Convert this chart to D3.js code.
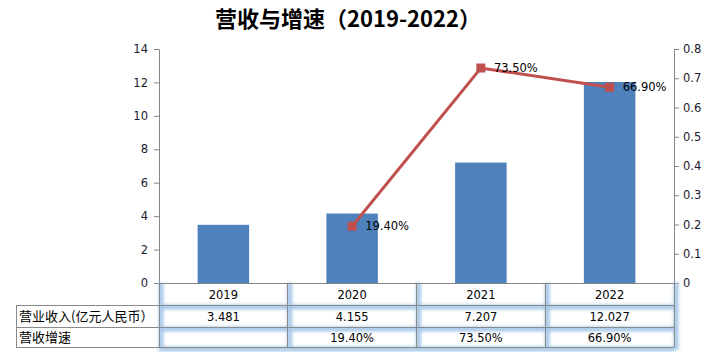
<!DOCTYPE html>
<html>
<head>
<meta charset="utf-8">
<script src="https://cdn.jsdelivr.net/npm/d3@7"></script>
<style>
  body { margin: 0; background: #fff; }
  svg { display: block; }
  text { font-family: "DejaVu Sans", sans-serif; }
</style>
</head>
<body>
<svg id="chart" width="706" height="352"></svg>
<script>
// Données
const annees = ["2019", "2020", "2021", "2022"];
const revenus = [3.481, 4.155, 7.207, 12.027];
const croissance = [null, 0.194, 0.735, 0.669];
const revenusTexte = ["3.481", "4.155", "7.207", "12.027"];
const croissanceTexte = ["", "19.40%", "73.50%", "66.90%"];
const ticksGauche = [0, 2, 4, 6, 8, 10, 12, 14];
const ticksDroite = [0, 0.1, 0.2, 0.3, 0.4, 0.5, 0.6, 0.7, 0.8];
const lignesTable = ["营业收入(亿元人民币）", "营收增速"];

const svg = d3.select("#chart");
const width = 706, height = 352;

const margin = { top: 49, left: 159, right: 674, bottom: 283 };

// Échelles
const x = d3.scaleBand().domain(annees).range([margin.left, margin.right]).padding(0);
const y = d3.scaleLinear().domain([0, 14]).range([margin.bottom, margin.top]);
const y2 = d3.scaleLinear().domain([0, 0.8]).range([margin.bottom, margin.top]);

// Titre
svg.append("text")
  .attr("x", 348).attr("y", 27)
  .attr("text-anchor", "middle")
  .style("font-family", "'Noto Sans CJK SC', sans-serif")
  .style("font-weight", "bold")
  .style("font-size", "22px")
  .attr("fill", "#000")
  .text("营收与增速（2019-2022）");

// Barres
const barW = x.bandwidth() * 0.4;
svg.selectAll("rect.bar")
  .data(annees)
  .enter()
  .append("rect")
  .attr("class", "bar")
  .attr("x", (d) => x(d) + (x.bandwidth() - barW) / 2)
  .attr("y", (d, i) => y(revenus[i]))
  .attr("width", barW)
  .attr("height", (d, i) => y(0) - y(revenus[i]))
  .attr("fill", "#4F81BD");

// Axe gauche
const axeG = svg.append("g")
  .attr("transform", `translate(${margin.left},0)`)
  .call(d3.axisLeft(y).tickValues(ticksGauche).tickSize(5).tickPadding(6));
axeG.selectAll("path, line").attr("stroke", "#868686");
axeG.selectAll("text").attr("fill", "#1a1a2e").style("font-size", "11.5px").style("font-family", "'DejaVu Sans', sans-serif");

// Axe droit
const axeD = svg.append("g")
  .attr("transform", `translate(${margin.right},0)`)
  .call(d3.axisRight(y2).tickValues(ticksDroite).tickFormat((d) => d === 0 ? "0" : d3.format(".1f")(d)).tickSize(5).tickPadding(4));
axeD.selectAll("path, line").attr("stroke", "#868686");
axeD.selectAll("text").attr("fill", "#1a1a2e").style("font-size", "11.5px").style("font-family", "'DejaVu Sans', sans-serif");

// Table de données
const defs = svg.append("defs");
defs.append("filter").attr("id", "flou")
  .attr("x", "-10%").attr("y", "-10%").attr("width", "120%").attr("height", "120%")
  .append("feGaussianBlur").attr("stdDeviation", 1.6);

const rowY = [283, 305, 327, 347];
const colX = [margin.left].concat(annees.map((d) => x(d) + x.bandwidth()));

const table = svg.append("g");
const glow = table.append("g").attr("filter", "url(#flou)").attr("stroke", "#a9c9ea").attr("stroke-width", 5);
rowY.slice(1).forEach((yy) => {
  glow.append("line").attr("x1", margin.left).attr("x2", margin.right).attr("y1", yy + 2).attr("y2", yy + 2);
});
colX.forEach((xx) => {
  glow.append("line").attr("x1", xx + 2).attr("x2", xx + 2).attr("y1", rowY[0]).attr("y2", rowY[3] + 3);
});

const grid = table.append("g").attr("stroke", "#8a8a8a").attr("stroke-width", 1).attr("shape-rendering", "crispEdges");
rowY.slice(1).forEach((yy) => {
  grid.append("line").attr("x1", 16).attr("x2", margin.right).attr("y1", yy).attr("y2", yy);
});
colX.forEach((xx) => {
  grid.append("line").attr("x1", xx).attr("x2", xx).attr("y1", rowY[0]).attr("y2", rowY[3]);
});
grid.append("line").attr("x1", 16).attr("x2", 16).attr("y1", rowY[1]).attr("y2", rowY[3]);
svg.append("line").attr("x1", margin.left).attr("x2", margin.right).attr("y1", 283).attr("y2", 283)
  .attr("stroke", "#868686").attr("shape-rendering", "crispEdges");

// Textes de la table
const cellTexte = (yy, vals) => {
  svg.append("g").selectAll("text")
    .data(annees)
    .enter()
    .append("text")
    .attr("x", (d) => x(d) + x.bandwidth() / 2)
    .attr("y", yy)
    .attr("text-anchor", "middle")
    .attr("fill", "#000")
    .style("font-size", "11.5px")
    .text((d, i) => vals[i]);
};
cellTexte(299, annees);
cellTexte(321, revenusTexte);
cellTexte(342, croissanceTexte);

svg.selectAll("text.etiq")
  .data(lignesTable)
  .enter()
  .append("text")
  .attr("class", "etiq")
  .attr("x", 19)
  .attr("y", (d, i) => [321, 342][i])
  .attr("fill", "#000")
  .style("font-family", "'Noto Sans CJK SC', sans-serif")
  .style("font-size", "13px")
  .text((d) => d);

// Ligne de croissance
const pts = annees.map((d, i) => ({ an: d, v: croissance[i], t: croissanceTexte[i] })).filter((d) => d.v !== null);
const line = d3.line()
  .x((d) => x(d.an) + x.bandwidth() / 2)
  .y((d) => y2(d.v));

svg.append("path")
  .datum(pts)
  .attr("fill", "none")
  .attr("stroke", "#C0504D")
  .attr("stroke-width", 3)
  .attr("d", line);

svg.selectAll("rect.pt")
  .data(pts)
  .enter()
  .append("rect")
  .attr("class", "pt")
  .attr("x", (d) => x(d.an) + x.bandwidth() / 2 - 4.5)
  .attr("y", (d) => y2(d.v) - 4.5)
  .attr("width", 9)
  .attr("height", 9)
  .attr("fill", "#C0504D");

svg.selectAll("text.lab")
  .data(pts)
  .enter()
  .append("text")
  .attr("class", "lab")
  .attr("x", (d) => x(d.an) + x.bandwidth() / 2 + 13)
  .attr("y", (d) => y2(d.v) + 4)
  .attr("fill", "#000")
  .style("font-size", "11.5px")
  .text((d) => d.t);
</script>
</body>
</html>
